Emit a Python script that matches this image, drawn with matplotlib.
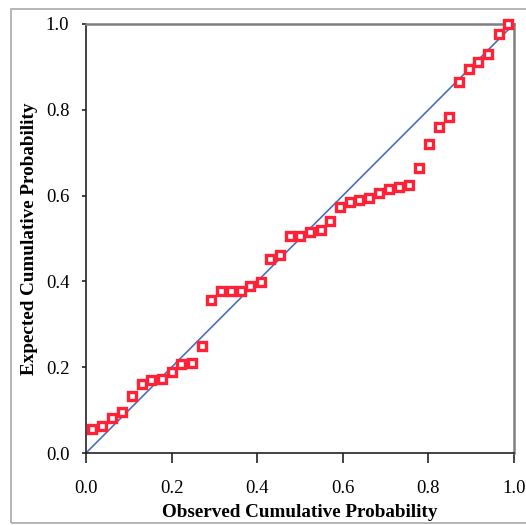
import matplotlib
matplotlib.use("Agg")
import matplotlib.pyplot as plt
from matplotlib.patches import Rectangle

# P-P plot: observed vs expected cumulative probability
observed = [0.015, 0.038, 0.061, 0.084, 0.107, 0.130, 0.153, 0.177, 0.200, 0.223,
            0.247, 0.270, 0.293, 0.315, 0.338, 0.362, 0.384, 0.408, 0.431, 0.454,
            0.477, 0.499, 0.524, 0.548, 0.570, 0.593, 0.616, 0.639, 0.662, 0.685,
            0.708, 0.732, 0.755, 0.779, 0.802, 0.825, 0.848, 0.871, 0.894, 0.917,
            0.940, 0.964, 0.987]
expected = [0.056, 0.063, 0.081, 0.095, 0.133, 0.161, 0.170, 0.173, 0.188, 0.207,
            0.209, 0.250, 0.356, 0.378, 0.378, 0.378, 0.390, 0.398, 0.453, 0.462,
            0.506, 0.506, 0.515, 0.520, 0.541, 0.573, 0.584, 0.590, 0.595, 0.606,
            0.616, 0.621, 0.625, 0.664, 0.721, 0.759, 0.784, 0.864, 0.894, 0.912,
            0.930, 0.976, 0.999]
ticks = [0.0, 0.2, 0.4, 0.6, 0.8, 1.0]
tick_labels = ["0.0", "0.2", "0.4", "0.6", "0.8", "1.0"]

plt.rcParams['font.family'] = ['Liberation Serif', 'DejaVu Serif']

fig = plt.figure(figsize=(5.26, 5.25), dpi=100)
fig.patch.set_facecolor('white')

# thin grey frame around the chart area
fig.add_artist(Rectangle((11 / 526, 2 / 525), 1.2, 514 / 525, transform=fig.transFigure,
                         fill=False, edgecolor='#b0b0b0', linewidth=1.3))

ax = fig.add_axes([86 / 526, 72 / 525, 428 / 526, 429 / 525])

ax.plot([0, 1], [0, 1], color='#4a6fc0', linewidth=1.2, zorder=2, clip_on=False)
ax.plot(observed, expected, linestyle='none', marker='s', markersize=5.1,
        markeredgewidth=2.4, markeredgecolor='#ff2136', markerfacecolor='white',
        zorder=3, clip_on=False)

ax.set_xlim(0, 1)
ax.set_ylim(0, 1)
ax.set_xticks(ticks)
ax.set_xticklabels(tick_labels)
ax.set_yticks(ticks)
ax.set_yticklabels(tick_labels)

ax.tick_params(axis='x', direction='out', length=7.5, width=1.2, color='#222222',
               labelsize=13.5, pad=12)
ax.tick_params(axis='y', direction='out', length=3, width=1.2, color='#222222',
               labelsize=13.5, pad=9)

for side in ('left', 'bottom'):
    ax.spines[side].set_color('#222222')
    ax.spines[side].set_linewidth(1.2)
for side in ('top', 'right'):
    ax.spines[side].set_color('#808080')
    ax.spines[side].set_linewidth(1.8)

ax.set_xlabel('Observed Cumulative Probability', fontsize=13.8, fontweight='bold', labelpad=5)
ax.set_ylabel('Expected Cumulative Probability', fontsize=13.8, fontweight='bold', labelpad=6)

fig.savefig('out.png', dpi=100, facecolor='white')
